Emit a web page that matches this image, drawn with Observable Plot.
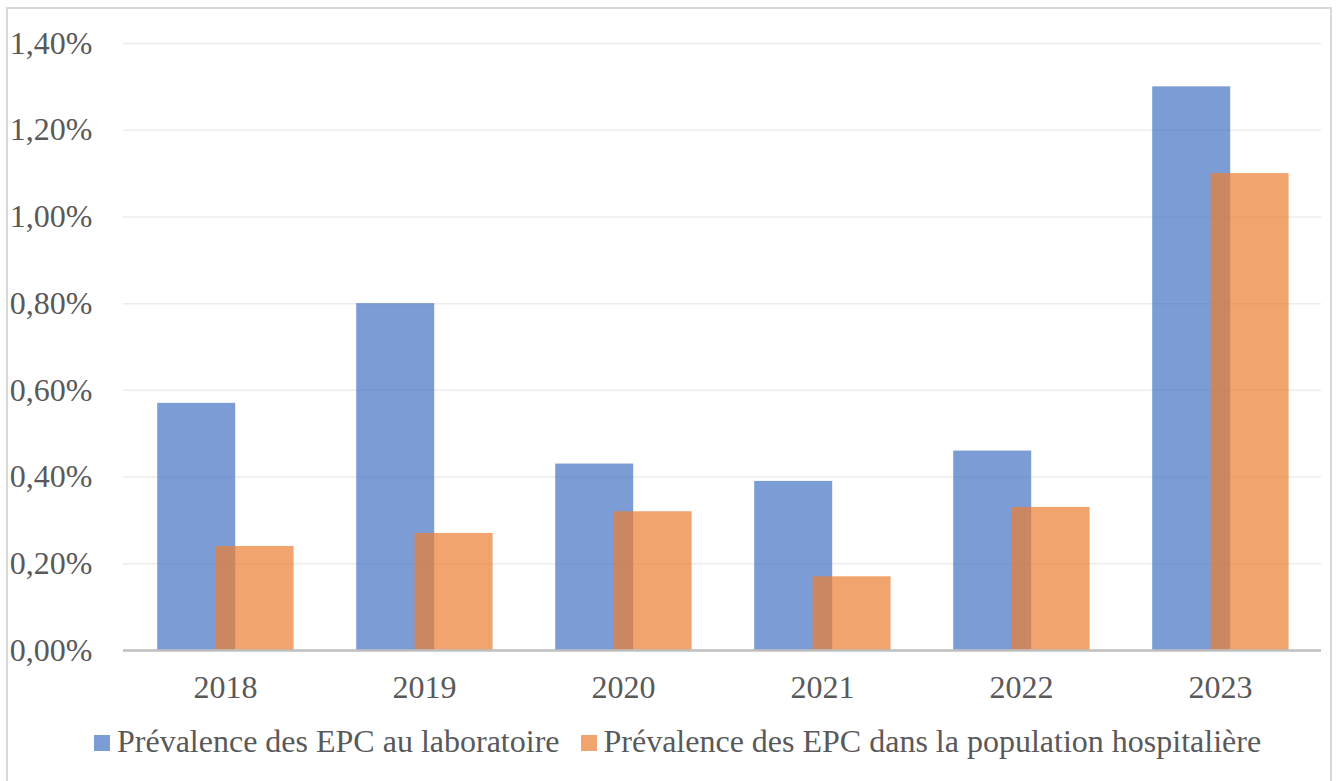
<!DOCTYPE html>
<html>
<head>
<meta charset="utf-8">
<script src="https://cdn.jsdelivr.net/npm/d3@7"></script>
<script src="https://cdn.jsdelivr.net/npm/@observablehq/plot@0.6"></script>
<style>
  html, body { margin: 0; padding: 0; background: #fff; }
  #frame { position: absolute; left: 6px; top: 7px; width: 1326px; height: 790px; border: 2px solid #d9d9d9; box-sizing: border-box; }
  #chart { position: absolute; left: 0; top: 0; }
  #legend { position: absolute; left: 94px; top: 723px; display: flex; align-items: center;
            font-family: "Liberation Serif", "Times New Roman", serif; font-size: 32px; color: #595959; white-space: nowrap; }
  .item { display: flex; align-items: center; margin-right: 21px; }
  .sw { width: 16px; height: 16px; margin-right: 7px; margin-top: 2px; }
</style>
</head>
<body>
<div id="frame"></div>
<div id="chart"></div>
<div id="legend"></div>
<script>
const years = ["2018", "2019", "2020", "2021", "2022", "2023"];
const labValues = [0.0057, 0.0080, 0.0043, 0.0039, 0.0046, 0.0130];
const hospValues = [0.0024, 0.0027, 0.0032, 0.0017, 0.0033, 0.0110];
const seriesNames = ["Prévalence des EPC au laboratoire", "Prévalence des EPC dans la population hospitalière"];
const seriesColors = ["#4472C4", "#ED7D31"];
const yTicks = [0, 0.002, 0.004, 0.006, 0.008, 0.010, 0.012, 0.014];

const labData = years.map((y, i) => ({year: y, value: labValues[i]}));
const hospData = years.map((y, i) => ({year: y, value: hospValues[i]}));

const fmt = d => (d * 100).toFixed(2).replace(".", ",") + "%";
const font = '"Liberation Serif", "Times New Roman", serif';

const chart = Plot.plot({
  width: 1339,
  height: 720,
  marginLeft: 123,
  marginRight: 18,
  marginTop: 43,
  marginBottom: 70,
  style: {fontFamily: font, fontSize: "32px", color: "#595959", background: "transparent"},
  x: {domain: years, paddingInner: 0.609, paddingOuter: 0.3045, label: null},
  y: {domain: [0, 0.014], label: null},
  marks: [
    Plot.ruleY(yTicks.slice(1), {stroke: "#ececec", strokeWidth: 1.5}),
    Plot.barY(labData, {x: "year", y: "value", fill: seriesColors[0], fillOpacity: 0.7, dx: -28.8}),
    Plot.barY(hospData, {x: "year", y: "value", fill: seriesColors[1], fillOpacity: 0.7, dx: 29.6}),
    Plot.ruleY([0], {stroke: "#bfbfbf", strokeWidth: 2.5}),
    Plot.axisY({ticks: yTicks, tickFormat: fmt, tickSize: 0, tickPadding: 31, fontSize: 32, fill: "#595959", label: null}),
    Plot.axisX({tickSize: 0, tickPadding: 25, fontSize: 32, fill: "#595959", label: null})
  ]
});
document.getElementById("chart").appendChild(chart);

const legend = document.getElementById("legend");
seriesNames.forEach((name, i) => {
  const item = document.createElement("div");
  item.className = "item";
  const sw = document.createElement("div");
  sw.className = "sw";
  sw.style.background = seriesColors[i];
  sw.style.opacity = 0.7;
  const t = document.createElement("span");
  t.textContent = name;
  item.appendChild(sw);
  item.appendChild(t);
  legend.appendChild(item);
});
</script>
</body>
</html>
